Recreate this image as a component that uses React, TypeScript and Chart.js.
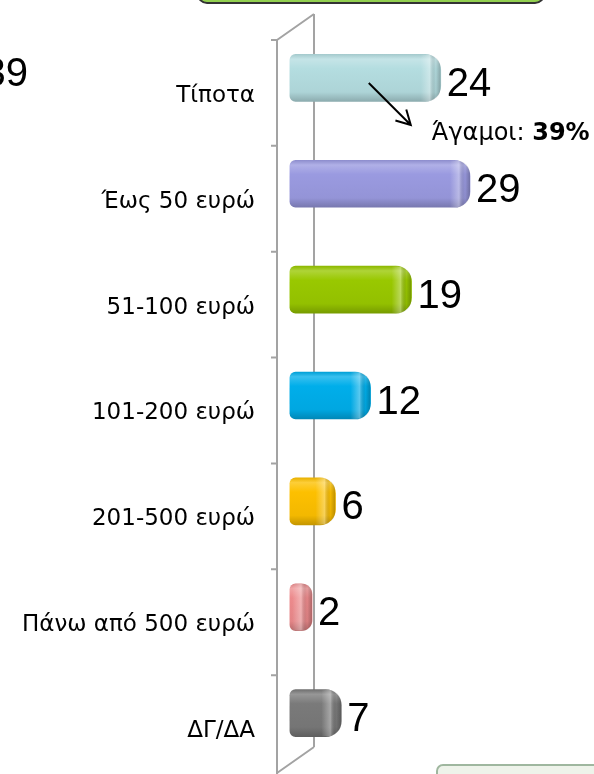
import React, { useEffect, useRef } from "react";
import { Chart, registerables } from "chart.js";

Chart.register(...registerables);

const categories = [
  "Τίποτα",
  "Έως 50 ευρώ",
  "51-100 ευρώ",
  "101-200 ευρώ",
  "201-500 ευρώ",
  "Πάνω από 500 ευρώ",
  "ΔΓ/ΔΑ",
];
const values = [24, 29, 19, 12, 6, 2, 7];
const barColors = ["#b4dde0", "#9a9ae0", "#99c800", "#00aeea", "#fdc000", "#ec8a8c", "#7a7a7a"];
const annotationLabel = "Άγαμοι: ";
const annotationValue = "39%";
const cornerNumber = "39";

const BAR_T = 47;
const TEXT_FONT = '"DejaVu Sans", sans-serif';
const NUM_FONT = '"Liberation Sans", Arial, sans-serif';

function hexToRgb(h: string) {
  const n = parseInt(h.slice(1), 16);
  return [(n >> 16) & 255, (n >> 8) & 255, n & 255];
}
function mix(h: string, amt: number) {
  const [r, g, b] = hexToRgb(h);
  const t = amt > 0 ? 255 : 0;
  const a = Math.abs(amt);
  const f = (c: number) => Math.round(c + (t - c) * a);
  return `rgb(${f(r)},${f(g)},${f(b)})`;
}

function rr(ctx: CanvasRenderingContext2D, x0: number, y0: number, x1: number, y1: number, rl: number, rrad: number) {
  const w = x1 - x0;
  const h = y1 - y0;
  const rR = Math.min(rrad, w / 2, h / 2);
  const rL = Math.min(rl, w / 2, h / 2);
  ctx.beginPath();
  ctx.moveTo(x0 + rL, y0);
  ctx.lineTo(x1 - rR, y0);
  ctx.quadraticCurveTo(x1, y0, x1, y0 + rR);
  ctx.lineTo(x1, y1 - rR);
  ctx.quadraticCurveTo(x1, y1, x1 - rR, y1);
  ctx.lineTo(x0 + rL, y1);
  ctx.quadraticCurveTo(x0, y1, x0, y1 - rL);
  ctx.lineTo(x0, y0 + rL);
  ctx.quadraticCurveTo(x0, y0, x0 + rL, y0);
  ctx.closePath();
}

const wallPlugin = {
  id: "wall",
  beforeDatasetsDraw(chart: any) {
    const { ctx, chartArea } = chart;
    const { left, top, bottom } = chartArea;
    const n = categories.length;
    const band = (bottom - top) / n;
    const frontTop = top + 15;
    const frontBottom = bottom + 7;
    const dx = 37;
    const dy = -26;
    ctx.save();
    ctx.strokeStyle = "#a3a3a3";
    ctx.lineWidth = 2;
    ctx.beginPath();
    ctx.moveTo(left, frontTop);
    ctx.lineTo(left, frontBottom + 10);
    ctx.moveTo(left + dx, frontTop + dy);
    ctx.lineTo(left + dx, frontBottom + dy);
    ctx.moveTo(left, frontTop);
    ctx.lineTo(left + dx, frontTop + dy);
    ctx.moveTo(left, frontBottom);
    ctx.lineTo(left + dx, frontBottom + dy);
    for (let i = 0; i <= n; i++) {
      const y = frontTop + i * band;
      ctx.moveTo(left - 6, y);
      ctx.lineTo(left, y);
    }
    ctx.stroke();
    ctx.restore();
  },
};

const decoPlugin = {
  id: "deco",
  beforeDraw(chart: any) {
    const { ctx, width, height } = chart;
    ctx.save();
    ctx.fillStyle = "#92d050";
    ctx.strokeStyle = "#333333";
    ctx.lineWidth = 2;
    ctx.beginPath();
    (ctx as any).roundRect(198, -30, 346, 33, 9);
    ctx.fill();
    ctx.stroke();
    ctx.fillStyle = "#eef3ea";
    ctx.strokeStyle = "#9fb79f";
    ctx.lineWidth = 2;
    ctx.beginPath();
    (ctx as any).roundRect(437, height - 9, width, 30, 6);
    ctx.fill();
    ctx.stroke();
    ctx.fillStyle = "#000";
    ctx.font = `40px ${NUM_FONT}`;
    ctx.textAlign = "right";
    ctx.textBaseline = "alphabetic";
    ctx.fillText(cornerNumber, 28, 86);
    ctx.restore();
  },
};

const barFxPlugin = {
  id: "barfx",
  afterDatasetsDraw(chart: any) {
    const { ctx } = chart;
    const meta = chart.getDatasetMeta(0);
    meta.data.forEach((el: any, i: number) => {
      const { x, y, base, height } = el.getProps(["x", "y", "base", "height"], true);
      if (![x, y, base, height].every((v) => Number.isFinite(v))) return;
      const y0 = y - height / 2;
      const y1 = y + height / 2;
      ctx.save();
      rr(ctx, base, y0, x, y1, 6, 16);
      ctx.clip();
      const g = ctx.createLinearGradient(x - 20, 0, x, 0);
      g.addColorStop(0, "rgba(255,255,255,0)");
      g.addColorStop(0.45, "rgba(255,255,255,0.35)");
      g.addColorStop(0.75, "rgba(0,0,0,0.04)");
      g.addColorStop(1, "rgba(0,0,0,0.25)");
      ctx.fillStyle = g;
      ctx.fillRect(x - 20, y0, 20, height);
      ctx.restore();

      ctx.save();
      ctx.fillStyle = "#000";
      ctx.font = `40px ${NUM_FONT}`;
      ctx.textAlign = "left";
      ctx.textBaseline = "middle";
      ctx.fillText(String(values[i]), x + 6, y + 7);
      ctx.restore();
    });

    const el0 = meta.data[0];
    if (el0) {
      const { x, y } = el0.getProps(["x", "y"], true);
      if (!Number.isFinite(x) || !Number.isFinite(y)) return;
      const sx = x - 72;
      const sy = y + 5;
      const ex = x - 30;
      const ey = y + 47;
      ctx.save();
      ctx.strokeStyle = "#000";
      ctx.lineWidth = 2;
      ctx.beginPath();
      ctx.moveTo(sx, sy);
      ctx.lineTo(ex, ey);
      const ang = Math.atan2(ey - sy, ex - sx);
      const L = 16;
      ctx.moveTo(ex + L * Math.cos(ang + Math.PI - 0.5), ey + L * Math.sin(ang + Math.PI - 0.5));
      ctx.lineTo(ex, ey);
      ctx.lineTo(ex + L * Math.cos(ang + Math.PI + 0.5), ey + L * Math.sin(ang + Math.PI + 0.5));
      ctx.stroke();
      ctx.fillStyle = "#000";
      ctx.textAlign = "left";
      ctx.textBaseline = "middle";
      ctx.font = `24px ${TEXT_FONT}`;
      const tx = x - 9;
      const ty = y + 56;
      ctx.fillText(annotationLabel, tx, ty);
      const w = ctx.measureText(annotationLabel).width;
      ctx.font = `bold 24px ${TEXT_FONT}`;
      ctx.fillText(annotationValue, tx + w, ty);
      ctx.restore();
    }
  },
};

export default function App() {
  const ref = useRef<HTMLCanvasElement | null>(null);
  useEffect(() => {
    if (!ref.current) return;
    const chart = new Chart(ref.current, {
      type: "bar",
      data: {
        labels: categories,
        datasets: [
          {
            data: values,
            base: -1.8,
            barThickness: BAR_T,
            borderSkipped: false,
            borderRadius: { topLeft: 6, bottomLeft: 6, topRight: 16, bottomRight: 16 },
            backgroundColor: (c: any) => {
              const col = barColors[c.dataIndex] ?? barColors[0];
              const ys = c.chart.scales && c.chart.scales.y;
              if (!ys || c.dataIndex === undefined || !c.chart.chartArea) return col;
              const cy = ys.getPixelForValue(c.dataIndex);
              if (!Number.isFinite(cy)) return col;
              const h = BAR_T / 2;
              const g = c.chart.ctx.createLinearGradient(0, cy - h, 0, cy + h);
              g.addColorStop(0, mix(col, -0.08));
              g.addColorStop(0.1, mix(col, 0.22));
              g.addColorStop(0.3, col);
              g.addColorStop(0.8, mix(col, -0.04));
              g.addColorStop(1, mix(col, -0.22));
              return g;
            },
          } as any,
        ],
      },
      options: {
        indexAxis: "y",
        animation: false,
        responsive: false,
        maintainAspectRatio: false,
        layout: { padding: { top: 25, bottom: 8, right: 7, left: 0 } },
        plugins: {
          legend: { display: false },
          tooltip: { enabled: false },
        },
        scales: {
          x: {
            display: false,
            min: -4,
            max: 49,
          },
          y: {
            grid: { display: false },
            border: { display: false },
            afterFit: (scale: any) => {
              scale.width = 277;
              scale.paddingTop = 0;
              scale.paddingBottom = 0;
            },
            ticks: {
              color: "#000",
              padding: 14,
              labelOffset: 18,
              font: { family: TEXT_FONT, size: 23 },
            },
          },
        },
      },
      plugins: [decoPlugin, wallPlugin, barFxPlugin],
    });
    return () => chart.destroy();
  }, []);
  return (
    <div style={{ position: "fixed", left: 0, top: 0, width: 594, height: 774, background: "#fff" }}>
      <canvas ref={ref} width={594} height={774} style={{ display: "block" }} />
    </div>
  );
}
